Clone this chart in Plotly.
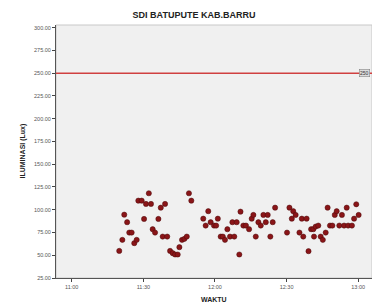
import plotly.graph_objects as go

title = "SDI BATUPUTE KAB.BARRU"
x_title = "WAKTU"
y_title = "ILUMINASI (Lux)"
ref_value = 250
ref_label = "250"

times = [
    "11:19:54", "11:21:12", "11:22:00", "11:23:12", "11:24:06", "11:25:06", "11:26:12", "11:27:12",
    "11:27:54", "11:29:18", "11:30:18", "11:31:06", "11:32:18", "11:33:12", "11:33:54", "11:34:54",
    "11:36:18", "11:37:18", "11:38:06", "11:39:06", "11:40:00", "11:41:12", "11:42:18", "11:43:18",
    "11:44:24", "11:45:06", "11:46:12", "11:47:12", "11:48:12", "11:49:06", "11:50:06", "11:55:06",
    "11:56:06", "11:57:12", "11:58:12", "11:59:36", "12:00:30", "12:01:12", "12:02:24", "12:03:18",
    "12:04:12", "12:05:12", "12:06:18", "12:07:18", "12:08:06", "12:09:06", "12:10:12", "12:10:42",
    "12:11:54", "12:13:00", "12:14:18", "12:15:24", "12:16:06", "12:17:06", "12:18:12", "12:19:12",
    "12:20:18", "12:21:18", "12:22:06", "12:23:12", "12:24:12", "12:25:12", "12:30:12", "12:31:12",
    "12:32:12", "12:32:48", "12:33:48", "12:35:24", "12:36:24", "12:37:00", "12:38:24", "12:39:12",
    "12:40:18", "12:41:12", "12:41:30", "12:42:12", "12:43:18", "12:44:18", "12:45:12", "12:46:24",
    "12:47:12", "12:48:12", "12:49:12", "12:50:12", "12:51:00", "12:52:06", "12:53:12", "12:54:06",
    "12:55:12", "12:55:48", "12:57:24", "12:58:18", "12:59:12", "13:00:12",
]
lux = [
    54.8, 66.9, 94.6, 86.3, 74.9, 74.9, 63.3, 66.9,
    110.0, 110.0, 89.9, 106.4, 118.1, 106.4, 78.6, 74.9,
    89.9, 102.3, 70.5, 106.4, 70.5, 54.8, 52.3, 50.8,
    50.8, 58.9, 66.9, 68.0, 70.5, 118.1, 110.0, 90.2,
    82.6, 98.4, 86.3, 82.6, 82.6, 90.2, 70.5, 70.5,
    66.9, 78.6, 70.5, 86.3, 70.5, 86.3, 50.8, 97.9,
    82.6, 82.6, 78.6, 90.2, 94.3, 70.5, 86.3, 82.6,
    94.3, 86.3, 94.3, 70.5, 86.3, 102.3, 74.9, 102.3,
    90.2, 98.4, 94.3, 74.9, 90.2, 70.5, 90.2, 54.5,
    78.6, 78.6, 70.5, 81.5, 82.6, 70.5, 66.9, 74.9,
    102.3, 82.6, 82.6, 94.3, 98.4, 82.6, 94.3, 82.6,
    102.3, 82.6, 82.6, 90.2, 106.0, 94.3,
]
x_ticks = ["11:00", "11:30", "12:00", "12:30", "13:00"]
y_ticks = [25, 50, 75, 100, 125, 150, 175, 200, 225, 250, 275, 300]

day = "2024-01-01 "
xs = [day + t for t in times]

fig = go.Figure()
fig.add_trace(go.Scatter(
    x=xs, y=lux, mode="markers",
    marker=dict(size=5.2, color="#8a1518", line=dict(color="#4a0a0a", width=0.5)),
    showlegend=False, hoverinfo="skip",
))

fig.add_shape(type="line", xref="paper", x0=0, x1=1, yref="y", y0=ref_value, y1=ref_value,
              line=dict(color="#d04040", width=1.4))
fig.add_annotation(xref="paper", x=1, yref="y", y=ref_value, text=ref_label, showarrow=False,
                   xanchor="right", yanchor="middle", xshift=-2, font=dict(size=5, color="#333"),
                   bgcolor="#dcdcdc", bordercolor="#777", borderwidth=0.5, borderpad=0.5)
fig.add_shape(type="rect", xref="paper", yref="paper", x0=0, x1=1, y0=0, y1=1,
              line=dict(color="#c8c8c8", width=1), layer="below")

# axis titles as annotations for exact placement
fig.add_annotation(xref="paper", yref="paper", x=0.5, y=0, yshift=-21, xanchor="center",
                   yanchor="middle", text="<b>" + x_title + "</b>", showarrow=False,
                   font=dict(size=7, color="#222"))
fig.add_annotation(xref="paper", yref="paper", x=0, xshift=-34, y=0.5, xanchor="center",
                   yanchor="middle", textangle=-90, text="<b>" + y_title + "</b>", showarrow=False,
                   font=dict(size=7, color="#222"))

fig.update_layout(
    width=372, height=304,
    margin=dict(l=56, r=0, t=25, b=26, autoexpand=False),
    paper_bgcolor="white", plot_bgcolor="#f0f0f0",
    font=dict(family="Liberation Sans, Arial, sans-serif", color="#555"),
    title=dict(text="<b>" + title + "</b>", x=194 / 372, xanchor="center",
               yref="container", y=1 - 15 / 304, yanchor="middle",
               font=dict(size=9, color="#222")),
)
fig.update_xaxes(
    type="date", automargin=False,
    range=[day + "10:53:24", day + "13:05:48"],
    tickvals=[day + t for t in x_ticks], ticktext=x_ticks,
    ticks="outside", ticklen=3, tickcolor="#444", tickfont=dict(size=5.5, color="#555"),
    showgrid=False, zeroline=False, showline=True, linecolor="#555", linewidth=1,
)
fig.update_yaxes(
    automargin=False,
    range=[25, 303],
    tickvals=y_ticks, ticktext=[f"{v:.2f}" for v in y_ticks],
    ticks="outside", ticklen=3, tickcolor="#444", tickfont=dict(size=5.5, color="#555"),
    showgrid=False, zeroline=False, showline=True, linecolor="#555", linewidth=1,
)

fig.write_html("out.html", config={"displayModeBar": False},
               post_script="document.body.style.margin='0px';")
